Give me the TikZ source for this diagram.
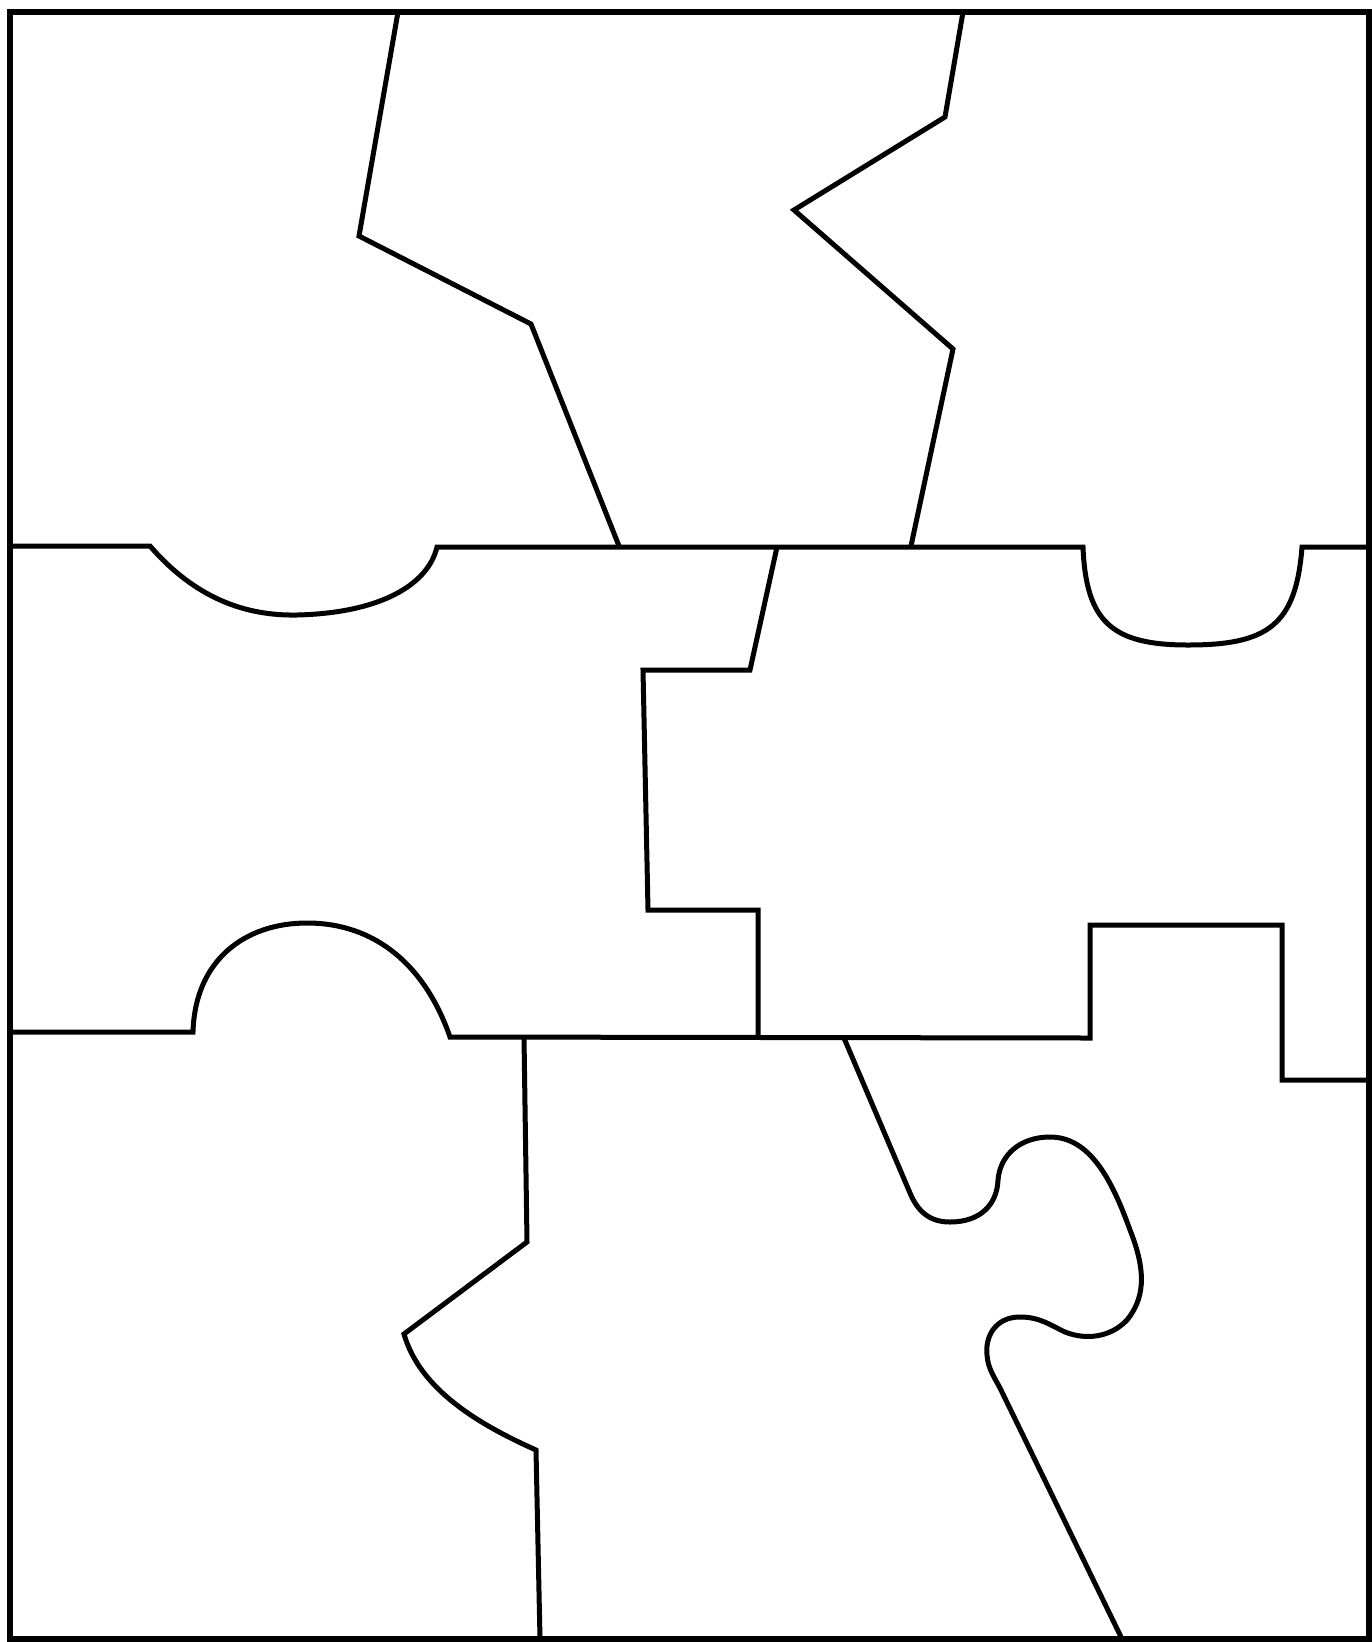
\documentclass[tikz,border=0pt]{standalone}
\begin{document}
\begin{tikzpicture}[x=1pt,y=-1pt,line join=miter,
  cut/.style={draw=black,line width=5pt}]
\useasboundingbox[fill=white] (0,0) rectangle (1372,1642);
% outer frame
\draw[cut,line width=6pt] (10,12) rectangle (1369,1639);
% top row separators
\draw[cut] (398,12) -- (359,236) -- (531,324) -- (619,546);
\draw[cut] (963,12) -- (945,117) -- (794,210) -- (953,349) -- (911,546);
% first horizontal cut
\draw[cut] (10,546) -- (150,546)
  .. controls (195,598) and (245,616) .. (297,615)
  .. controls (380,613) and (428,585) .. (437,547)
  -- (1083,547)
  .. controls (1086,622) and (1112,645) .. (1188,645)
  .. controls (1268,645) and (1296,625) .. (1302,547)
  -- (1369,547);
% middle row separator
\draw[cut] (777,547) -- (750,670) -- (643,670) -- (648,910) -- (758,910) -- (758,1037);
% second horizontal cut
\draw[cut] (10,1032) -- (193,1032)
  .. controls (195,960) and (245,923) .. (307,923)
  .. controls (375,923) and (425,965) .. (450,1037)
  -- (1090,1038) -- (1090,925) -- (1282,925) -- (1282,1080) -- (1369,1080);
% bottom row left separator
\draw[cut] (524,1037) -- (527,1242) -- (404,1334)
  .. controls (420,1390) and (480,1425) .. (536,1450)
  -- (540,1639);
% bottom row right separator
\draw[cut] (844,1038) -- (910,1193)
  .. controls (918,1212) and (930,1222) .. (950,1222)
  .. controls (980,1222) and (997,1205) .. (998,1180)
  .. controls (1000,1155) and (1020,1137) .. (1050,1137)
  .. controls (1090,1137) and (1112,1180) .. (1130,1230)
  .. controls (1148,1275) and (1143,1300) .. (1127,1320)
  .. controls (1110,1338) and (1085,1340) .. (1065,1332)
  .. controls (1050,1325) and (1040,1317) .. (1020,1317)
  .. controls (995,1317) and (985,1337) .. (987,1355)
  .. controls (988,1368) and (993,1375) .. (1000,1388)
  -- (1122,1639);
\end{tikzpicture}
\end{document}
